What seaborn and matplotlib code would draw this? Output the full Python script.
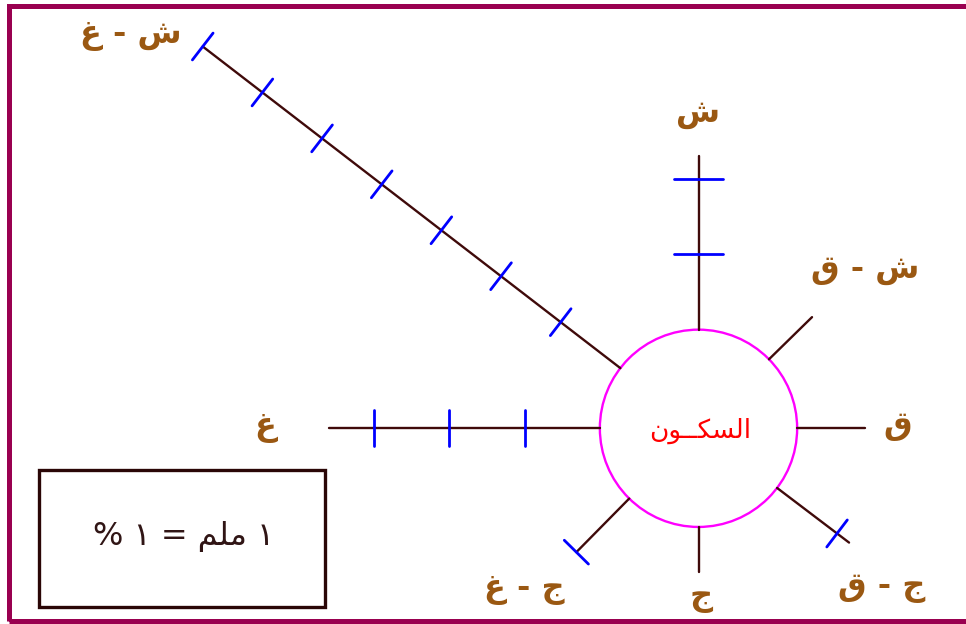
import numpy as np
import pandas as pd
import matplotlib
matplotlib.use('Agg')
import matplotlib.pyplot as plt
import seaborn as sns
from matplotlib.patches import Circle, Rectangle

# wind directions (Arabic), drawn clockwise from north
directions = ['ش', 'ش - ق', 'ق', 'ج - ق', 'ج', 'ج - غ', 'غ', 'ش - غ']
# direction of each arm as drawn (degrees, counter-clockwise from east)
angles = [90, 44.4, 0, -37.2, -90, -134.6, 180, 142.4]
# frequency of each direction (%), 1 mm = 1 %
values = [2.3, 0.8, 0.9, 1.2, 0.6, 1.0, 3.6, 7.0]
calm_label = 'السكــون'
scale_label = '١ ملم = ١ %'

# --- minimal arabic shaping (matplotlib has no text shaping) ---
TATWEEL = 'ـ'
FORMS = {  # isolated, final, initial, medial
    'ا': ('\uFE8D', '\uFE8E', None, None),
    'و': ('\uFEED', '\uFEEE', None, None),
    'ل': ('\uFEDD', '\uFEDE', '\uFEDF', '\uFEE0'),
    'س': ('\uFEB1', '\uFEB2', '\uFEB3', '\uFEB4'),
    'ش': ('\uFEB5', '\uFEB6', '\uFEB7', '\uFEB8'),
    'ك': ('\uFED9', '\uFEDA', '\uFEDB', '\uFEDC'),
    'ن': ('\uFEE5', '\uFEE6', '\uFEE7', '\uFEE8'),
    'م': ('\uFEE1', '\uFEE2', '\uFEE3', '\uFEE4'),
    'غ': ('\uFECD', '\uFECE', '\uFECF', '\uFED0'),
    'ق': ('\uFED5', '\uFED6', '\uFED7', '\uFED8'),
    'ج': ('\uFE9D', '\uFE9E', '\uFE9F', '\uFEA0'),
}


def links_forward(c):
    return c == TATWEEL or (c in FORMS and FORMS[c][2] is not None)


def joinable(c):
    return c == TATWEEL or c in FORMS


def shape(text):
    out = []
    for i, ch in enumerate(text):
        if ch not in FORMS:
            out.append(ch)
            continue
        prev = text[i - 1] if i > 0 else ''
        nxt = text[i + 1] if i + 1 < len(text) else ''
        jp = links_forward(prev)
        jn = FORMS[ch][2] is not None and joinable(nxt)
        iso, fin, ini, med = FORMS[ch]
        if jp and jn:
            out.append(med)
        elif jp:
            out.append(fin)
        elif jn:
            out.append(ini)
        else:
            out.append(iso)
    return ''.join(reversed(out))


# --- layout (pixels of the 966x624 picture) ---
W, H = 966, 624
CX, CY = 698.5, 428.3      # centre of the calm circle
S = 75.3                   # pixels per 1 %
R = 1.31                   # calm circle radius in %
tick_half = [0.33, 0.225, 0.225, 0.225, 0.225, 0.225, 0.24, 0.225]
# label offsets from the arm tip (px, x right / y down)
label_off = [(0, -43), (53, -48), (33, -3), (33, 45), (3, 25), (-52, 37), (-64, -1), (-72, -11)]

ARM = '#3f0a0a'
TICK = '#0000ff'
LABEL = '#9a5812'


def px(x, y):
    return (x - CX) / S, (CY - y) / S


sns.set_theme(style='white')
plt.rcParams['font.family'] = ['DejaVu Sans']

fig = plt.figure(figsize=(W / 100, H / 100), dpi=100)
ax = fig.add_axes([0, 0, 1, 1])

arm_rows, tick_rows = [], []
for d, ang, v, th in zip(directions, angles, values, tick_half):
    ux, uy = np.cos(np.radians(ang)), np.sin(np.radians(ang))
    arm_rows.append({'dir': d, 'x': R * ux, 'y': R * uy})
    arm_rows.append({'dir': d, 'x': (R + v) * ux, 'y': (R + v) * uy})
    for k in range(1, int(v + 1e-9) + 1):
        mx, my = (R + k) * ux, (R + k) * uy
        tick_rows.append({'id': f'{d}{k}', 'x': mx - th * uy, 'y': my + th * ux})
        tick_rows.append({'id': f'{d}{k}', 'x': mx + th * uy, 'y': my - th * ux})
arms = pd.DataFrame(arm_rows)
ticks = pd.DataFrame(tick_rows)

sns.lineplot(data=arms, x='x', y='y', units='dir', estimator=None, sort=False,
             color=ARM, lw=1.7, ax=ax, legend=False)
sns.lineplot(data=ticks, x='x', y='y', units='id', estimator=None, sort=False,
             color=TICK, lw=2.0, ax=ax, legend=False)

ax.add_patch(Circle((0, 0), R, fill=False, ec='#ff00ff', lw=1.7))
ax.text(0.02, -0.03, shape(calm_label), color='#ff0000', fontsize=19,
        ha='center', va='center')

for d, ang, v, off in zip(directions, angles, values, label_off):
    ux, uy = np.cos(np.radians(ang)), np.sin(np.radians(ang))
    tx, ty = (R + v) * ux + off[0] / S, (R + v) * uy - off[1] / S
    ax.text(tx, ty, shape(d), color=LABEL, fontsize=23, fontweight='bold',
            ha='center', va='center')

# scale box
bx0, by0 = px(39, 607)
bx1, by1 = px(325, 470)
ax.add_patch(Rectangle((bx0, by0), bx1 - bx0, by1 - by0, fill=False, ec='#2a0606', lw=2.4))
ax.text((bx0 + bx1) / 2 + 0.02, (by0 + by1) / 2 + 0.02, shape(scale_label), color='#301515',
        fontsize=23, ha='center', va='center')

# outer frame
fx0, fy0 = px(9, 621)
fx1, fy1 = px(990, 5.5)
ax.add_patch(Rectangle((fx0, fy0), fx1 - fx0, fy1 - fy0, fill=False, ec='#990050', lw=3.6,
                       clip_on=False))

ax.set_xlim(-CX / S, (W - CX) / S)
ax.set_ylim(-(H - CY) / S, CY / S)
ax.set_axis_off()

fig.savefig('out.png', dpi=100, facecolor='white')
